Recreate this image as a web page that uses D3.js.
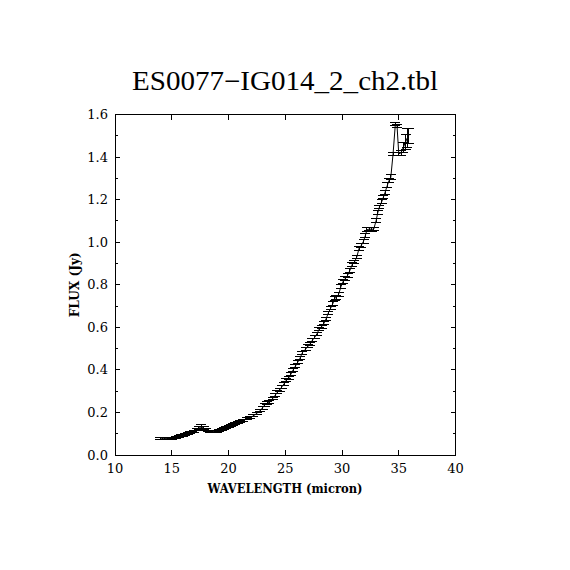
<!DOCTYPE html>
<html lang="en">
<head>
    <meta charset="utf-8">
    <title>ES0077-IG014_2_ch2.tbl</title>
    <script src="https://d3js.org/d3.v7.min.js"></script>
    <style>
        html, body {
            margin: 0;
            padding: 0;
            background: #fff;
        }
        text {
            font-family: "DejaVu Serif", "Liberation Serif", serif;
            fill: #000;
        }
        .frame {
            fill: none;
            stroke: #000;
            stroke-width: 1px;
            shape-rendering: crispEdges;
        }
        .tick {
            stroke: #000;
            stroke-width: 1px;
            shape-rendering: crispEdges;
        }
        path.line {
            fill: none;
            stroke: #000;
            stroke-width: 1px;
        }
        .err line {
            stroke: #000;
            stroke-width: 1px;
            shape-rendering: crispEdges;
        }
    </style>
</head>
<body>
<script type="text/javascript">

    // spectrum
    var wavelength = [14.0, 14.2, 14.4, 14.6, 14.8, 15.0, 15.2, 15.4, 15.6, 15.8,
        16.0, 16.2, 16.4, 16.6, 16.8, 17.0, 17.2, 17.4, 17.6, 17.8,
        18.0, 18.2, 18.4, 18.6, 18.8, 19.0, 19.2, 19.4, 19.6, 19.8,
        20.0, 20.2, 20.4, 20.6, 20.8, 21.0, 21.3, 21.6, 21.9, 22.2,
        22.5, 22.8, 23.0, 23.2, 23.4, 23.6, 23.9, 24.1, 24.3, 24.5,
        24.7, 24.9, 25.1, 25.3, 25.5, 25.7, 25.9, 26.1, 26.3, 26.5,
        26.8, 27.0, 27.2, 27.4, 27.6, 27.8, 28.0, 28.2, 28.4, 28.6,
        28.8, 29.0, 29.2, 29.35, 29.5, 29.7, 29.9, 30.1, 30.3, 30.5,
        30.7, 30.9, 31.1, 31.3, 31.5, 31.7, 31.9, 32.05, 32.2, 32.4,
        32.6, 32.8, 33.0, 33.15, 33.3, 33.5, 33.65, 33.8, 34.0, 34.15,
        34.3, 34.5, 34.7, 34.85, 35.0, 35.2, 35.4, 35.6, 35.75, 35.9];

    var flux = [0.076, 0.076, 0.077, 0.077, 0.078, 0.079, 0.080, 0.083, 0.087, 0.090,
        0.093, 0.097, 0.101, 0.105, 0.108, 0.112, 0.118, 0.126, 0.133, 0.128,
        0.118, 0.113, 0.111, 0.110, 0.110, 0.112, 0.116, 0.120, 0.124, 0.129,
        0.134, 0.138, 0.142, 0.147, 0.152, 0.157, 0.163, 0.170, 0.176, 0.184,
        0.196, 0.209, 0.222, 0.236, 0.244, 0.250, 0.265, 0.280, 0.294, 0.305,
        0.320, 0.335, 0.352, 0.362, 0.380, 0.400, 0.418, 0.436, 0.455, 0.480,
        0.498, 0.510, 0.523, 0.540, 0.553, 0.570, 0.592, 0.603, 0.618, 0.640,
        0.668, 0.690, 0.712, 0.735, 0.742, 0.755, 0.790, 0.815, 0.830, 0.845,
        0.868, 0.895, 0.907, 0.930, 0.970, 0.985, 1.005, 1.030, 1.058, 1.062,
        1.060, 1.062, 1.100, 1.138, 1.165, 1.190, 1.212, 1.235, 1.268, 1.290,
        1.305, 1.415, 1.555, 1.545, 1.415, 1.420, 1.445, 1.470, 1.490, 1.500];

    var fluxErr = [0.004, 0.004, 0.004, 0.004, 0.004, 0.004, 0.004, 0.004, 0.004, 0.004,
        0.004, 0.004, 0.004, 0.004, 0.004, 0.005, 0.005, 0.006, 0.012, 0.006,
        0.005, 0.004, 0.004, 0.004, 0.004, 0.004, 0.004, 0.004, 0.004, 0.004,
        0.004, 0.004, 0.004, 0.004, 0.004, 0.004, 0.005, 0.005, 0.005, 0.005,
        0.006, 0.006, 0.006, 0.006, 0.006, 0.006, 0.006, 0.007, 0.007, 0.007,
        0.007, 0.007, 0.007, 0.007, 0.007, 0.007, 0.007, 0.007, 0.007, 0.007,
        0.007, 0.007, 0.007, 0.007, 0.007, 0.007, 0.007, 0.007, 0.007, 0.008,
        0.008, 0.008, 0.009, 0.011, 0.009, 0.009, 0.009, 0.009, 0.009, 0.009,
        0.009, 0.009, 0.009, 0.009, 0.009, 0.009, 0.009, 0.009, 0.009, 0.009,
        0.009, 0.009, 0.009, 0.009, 0.009, 0.009, 0.009, 0.009, 0.011, 0.011,
        0.011, 0.007, 0.008, 0.008, 0.008, 0.013, 0.025, 0.035, 0.045, 0.035];

    var xTicks = [10, 15, 20, 25, 30, 35, 40];
    var yTicks = [0.0, 0.2, 0.4, 0.6, 0.8, 1.0, 1.2, 1.4, 1.6];
    var yMinor = [0.1, 0.3, 0.5, 0.7, 0.9, 1.1, 1.3, 1.5];

    var titleText = "ES0077\u2212IG014_2_ch2.tbl";
    var xLabel = "WAVELENGTH (micron)";
    var yLabel = "FLUX (Jy)";

    var w = 570;
    var h = 570;
    // plot box edges (note: "top" is reserved on window, so use px*)
    var pxL = 115, pxR = 455.5, pxT = 114.5, pxB = 455;

    var dataset = wavelength.map(function(d, i) {
        return { x: d, y: flux[i], e: fluxErr[i] };
    });

    var xScale = d3.scaleLinear().domain([10, 40]).range([pxL, pxR]);
    var yScale = d3.scaleLinear().domain([0, 1.6]).range([pxB, pxT]);

    var svg = d3.select("body")
        .append("svg")
        .attr("width", w)
        .attr("height", h);

    // title
    svg.append("text")
        .attr("x", 285)
        .attr("y", 90)
        .attr("text-anchor", "middle")
        .attr("textLength", 306)
        .attr("lengthAdjust", "spacingAndGlyphs")
        .style("font-family", "'Liberation Serif', serif")
        .style("font-size", "27px")
        .text(titleText);

    // frame
    svg.append("rect")
        .attr("class", "frame")
        .attr("x", pxL)
        .attr("y", pxT)
        .attr("width", pxR - pxL)
        .attr("height", pxB - pxT);

    // x ticks, bottom and top, pointing inward
    var xt = xTicks.slice(1, -1);
    svg.selectAll(".xtb").data(xt).enter().append("line")
        .attr("class", "tick")
        .attr("x1", d => xScale(d)).attr("x2", d => xScale(d))
        .attr("y1", pxB).attr("y2", pxB - 5);
    svg.selectAll(".xtt").data(xt).enter().append("line")
        .attr("class", "tick")
        .attr("x1", d => xScale(d)).attr("x2", d => xScale(d))
        .attr("y1", pxT).attr("y2", pxT + 5);

    // y ticks, left and right
    var yt = yTicks.slice(1, -1);
    svg.selectAll(".ytl").data(yt).enter().append("line")
        .attr("class", "tick")
        .attr("x1", pxL).attr("x2", pxL + 5)
        .attr("y1", d => yScale(d)).attr("y2", d => yScale(d));
    svg.selectAll(".ytr").data(yt).enter().append("line")
        .attr("class", "tick")
        .attr("x1", pxR).attr("x2", pxR - 5)
        .attr("y1", d => yScale(d)).attr("y2", d => yScale(d));
    svg.selectAll(".yml").data(yMinor).enter().append("line")
        .attr("class", "tick")
        .attr("x1", pxL).attr("x2", pxL + 3)
        .attr("y1", d => yScale(d)).attr("y2", d => yScale(d));
    svg.selectAll(".ymr").data(yMinor).enter().append("line")
        .attr("class", "tick")
        .attr("x1", pxR).attr("x2", pxR - 3)
        .attr("y1", d => yScale(d)).attr("y2", d => yScale(d));

    // tick labels
    svg.selectAll(".xl").data(xTicks).enter().append("text")
        .attr("x", d => xScale(d))
        .attr("y", 473)
        .attr("text-anchor", "middle")
        .style("font-size", "13px")
        .text(d => d);
    svg.selectAll(".yl").data(yTicks).enter().append("text")
        .attr("x", 108)
        .attr("y", d => yScale(d) + 4.5)
        .attr("text-anchor", "end")
        .style("font-size", "13px")
        .text(d => d.toFixed(1));

    // axis titles
    svg.append("text")
        .attr("x", 285)
        .attr("y", 493)
        .attr("text-anchor", "middle")
        .attr("textLength", 155)
        .attr("lengthAdjust", "spacingAndGlyphs")
        .style("font-size", "12px")
        .style("font-weight", "bold")
        .text(xLabel);
    svg.append("text")
        .attr("transform", "translate(79," + ((pxT + pxB) / 2) + ") rotate(-90)")
        .attr("text-anchor", "middle")
        .attr("textLength", 65)
        .attr("lengthAdjust", "spacingAndGlyphs")
        .style("font-size", "12px")
        .style("font-weight", "bold")
        .text(yLabel);

    // connecting line
    var line = d3.line()
        .x(d => xScale(d.x))
        .y(d => yScale(d.y));
    svg.append("path")
        .datum(dataset)
        .attr("class", "line")
        .attr("d", line);

    // error bars with caps
    var cap = 5;
    var g = svg.selectAll(".err").data(dataset).enter().append("g").attr("class", "err");
    g.append("line")
        .attr("x1", d => xScale(d.x)).attr("x2", d => xScale(d.x))
        .attr("y1", d => yScale(d.y - d.e)).attr("y2", d => yScale(d.y + d.e));
    g.append("line")
        .attr("x1", d => xScale(d.x) - cap).attr("x2", d => xScale(d.x) + cap)
        .attr("y1", d => yScale(d.y - d.e)).attr("y2", d => yScale(d.y - d.e));
    g.append("line")
        .attr("x1", d => xScale(d.x) - cap).attr("x2", d => xScale(d.x) + cap)
        .attr("y1", d => yScale(d.y + d.e)).attr("y2", d => yScale(d.y + d.e));

</script>
</body>
</html>
